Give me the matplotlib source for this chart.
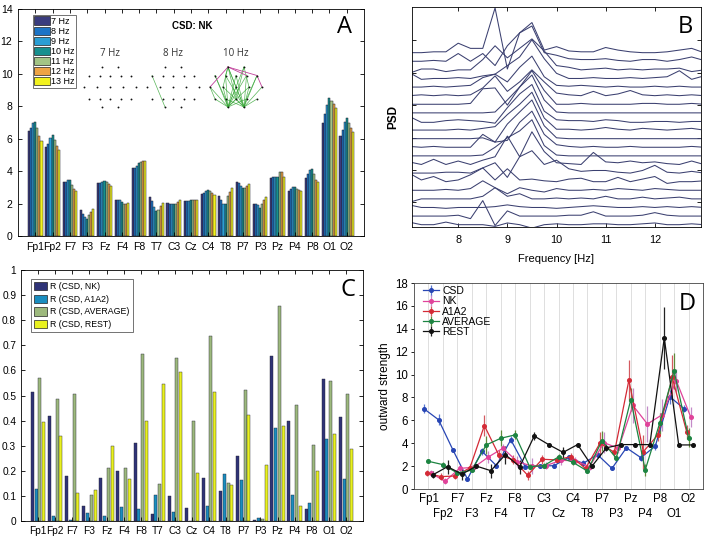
import numpy as np
import matplotlib
matplotlib.use('Agg')
import matplotlib.pyplot as plt
from matplotlib.patches import Patch

plt.rcParams['font.family'] = ['Liberation Sans', 'DejaVu Sans']

channels = ['Fp1', 'Fp2', 'F7', 'F3', 'Fz', 'F4', 'F8', 'T7', 'C3', 'Cz',
            'C4', 'T8', 'P7', 'P3', 'Pz', 'P4', 'P8', 'O1', 'O2']

# ---------------- Panel A data (CSD: NK strength per frequency) -------------
freq_labels = ['7 Hz', '8 Hz', '9 Hz', '10 Hz', '11 Hz', '12 Hz', '13 Hz']
a_7hz = [6.45, 5.50, 3.35, 1.60, 3.25, 2.25, 4.20, 2.40, 2.05, 2.15, 2.60, 2.45, 3.30, 2.00, 3.55, 2.80, 3.60, 6.95, 6.15]
a_8hz = [6.65, 5.65, 3.35, 1.35, 3.25, 2.25, 4.20, 2.15, 1.95, 2.15, 2.65, 2.25, 3.25, 2.00, 3.65, 2.90, 3.80, 7.50, 6.55]
a_9hz = [6.95, 6.05, 3.45, 1.15, 3.30, 2.20, 4.30, 1.80, 2.00, 2.15, 2.80, 1.95, 3.10, 1.90, 3.65, 3.00, 4.05, 8.05, 7.05]
a_10hz = [7.05, 6.20, 3.45, 1.05, 3.40, 2.10, 4.50, 1.55, 1.95, 2.20, 2.85, 1.95, 2.95, 1.75, 3.65, 3.00, 4.15, 8.50, 7.25]
a_11hz = [6.65, 5.95, 3.15, 1.30, 3.35, 1.95, 4.55, 1.60, 2.00, 2.20, 2.75, 2.45, 2.95, 2.00, 3.95, 2.90, 3.85, 8.30, 6.95]
a_12hz = [6.15, 5.55, 2.90, 1.50, 3.20, 1.95, 4.60, 1.85, 2.10, 2.20, 2.65, 2.70, 3.10, 2.25, 3.95, 2.85, 3.45, 8.15, 6.65]
a_13hz = [5.85, 5.30, 2.80, 1.65, 3.10, 2.05, 4.60, 2.05, 2.25, 2.20, 2.55, 2.95, 3.20, 2.40, 3.65, 2.80, 3.35, 7.90, 6.40]
a_series = [a_7hz, a_8hz, a_9hz, a_10hz, a_11hz, a_12hz, a_13hz]
a_colors = ['#3a3c7e', '#1c74c6', '#2a9ed4', '#17908f', '#a3c485', '#eea445', '#f2f21e']

# Inset head maps
map_titles = ['7 Hz', '8 Hz', '10 Hz']
electrode_x = [-8, 8, -21, -10.5, 0, 10.5, 21, -26, -13, 0, 13, 26, -21, -10.5, 0, 10.5, 21, -8, 8]
electrode_y = [20, 20, 11.5, 11.5, 11.5, 11.5, 11.5, 0, 0, 0, 0, 0, -12, -12, -12, -12, -12, -20, -20]
links_7hz_green = []
links_8hz_green = [('F7', 'O1')]
links_10hz_green = [('O1', 'F7'), ('O1', 'F3'), ('O1', 'Fz'), ('O1', 'F4'), ('O1', 'T7'), ('O1', 'C3'),
                    ('O1', 'Cz'), ('O1', 'C4'), ('O1', 'P7'), ('O1', 'P3'), ('O1', 'Fp2'), ('O1', 'P4'),
                    ('O2', 'F3'), ('O2', 'Fz'), ('O2', 'F4'), ('O2', 'F8'), ('O2', 'C3'), ('O2', 'Cz'),
                    ('O2', 'C4'), ('O2', 'T8'), ('O2', 'P4'), ('O2', 'P8'), ('O2', 'Fp1'), ('O2', 'P3'),
                    ('Fp1', 'C3'), ('Fp1', 'Cz'), ('Fp1', 'Pz'), ('Fp1', 'F3'), ('Fp2', 'C4'),
                    ('Fp2', 'Pz'), ('F7', 'P3'), ('F8', 'P4'), ('T7', 'P7'), ('Pz', 'O1'), ('Pz', 'O2')]
links_10hz_magenta = [('Fp1', 'F8'), ('Fp1', 'T7'), ('F8', 'T8'), ('Fp1', 'F4')]
map_links_green = [links_7hz_green, links_8hz_green, links_10hz_green]
map_links_magenta = [[], [], links_10hz_magenta]

# ---------------- Panel B data (PSD curves, 0.25 Hz steps) -------------------
psd_freqs = [7.0, 7.25, 7.5, 7.75, 8.0, 8.25, 8.5, 8.75, 9.0, 9.25, 9.5, 9.75, 10.0,
             10.25, 10.5, 10.75, 11.0, 11.25, 11.5, 11.75, 12.0, 12.25, 12.5, 12.75, 13.0]
psd_curves = [
    [0, 0, 0.1, 0.1, 1.1, 0.5, 0.5, 5.2, -1.9, 2.3, 3.5, 0.3, 0.7, 0.2, 0.1, 0.1, 0.6, 0.3, 0.1, 0.0, 0.0, 0.1, 0.3, 0.5, 0.0],
    [0, 0, 0.1, 0.0, 0.9, 0.0, 0.9, -0.5, 1.8, 3.3, 4.1, 1.0, 0.7, 0.3, 0.2, 0.2, 0.3, 0.1, 0.0, 0.2, 0.2, 0.0, 0.2, 0.5, 0.1],
    [-0.4, 0.1, 0.1, -0.2, 0.0, 0.0, 1.2, 2.8, 1.4, 2.5, 3.6, 2.2, 0.5, 0.3, 0.0, 0.1, 0.2, 0.0, 0.1, 0.0, 0.1, 0.1, 0.2, -0.2, 0.0],
    [0.7, -0.1, 0.0, 0.0, 0.1, 0.0, 0.3, 0.5, 1.5, 2.5, 4.5, 2.3, 0.6, 0.0, 0.0, 0.1, 0.0, 0.0, 0.1, 0.0, 0.1, 0.2, 0.9, -0.1, 0.3],
    [0, 0, 0.1, 0, 0.1, 0.2, 1.1, 1.5, 0.6, 2.3, 3.6, 1.2, 0.2, 0.1, 0.2, 0.1, 0.0, 0.1, 0.0, 0.0, 0.1, 0.0, 0.1, 0.0, 0.0],
    [0, 0.1, 0, 0.1, 0.0, 0.1, 0.9, 2.3, 0.5, 1.6, 3.0, 1.6, 0.3, 0.1, 0.0, 0.5, 0.0, 0.2, 0.6, 0.1, 0.0, 0.1, 0.0, 0.1, 0.0],
    [0, 0, 0, 0, 0, 0.1, 1.8, 1.9, -0.1, 2.0, 3.9, 1.6, 0.0, 0.0, 0.1, 0.0, 0.0, 0.0, 0.0, 0.1, 0.1, 0.0, 0.0, 0.1, 0.0],
    [0, 0, 0, 0, 0, 0, 0, 0.1, 1.5, 3.0, 4.4, 1.5, 0.1, 0, 0, 0, 0, 0, 0, 0, 0, 0, 0, 0, 0],
    [0.6, -0.1, -0.1, 0.1, 0.2, 0.1, 0.0, -0.2, 1.6, 3.2, 4.3, 1.2, 0.2, 0.1, 0.1, 0.0, 0.2, 0.1, -0.1, -0.1, 0.0, 0.0, -0.1, 0.0, 0.0],
    [0, 0, 0, 0, 0.1, 0.0, 0.2, 0.4, 1.8, 3.0, 4.4, 1.4, 0.1, 0.1, 0.0, 0.1, 0.3, 0.1, 0.0, 0.2, 0.1, 0.0, 0.1, 0.2, 0.0],
    [0, 0, 0, 0, 0, 0, 0.1, -0.4, 1.7, 3.1, 4.5, 1.5, 0.1, 0, 0, 0, 0, 0, 0, 0, 0, 0, 0, 0, 0],
    [0.1, 0, 0.1, 0.0, 0.0, 0.0, 1.5, 0.6, 0.8, 2.9, 4.2, 1.5, 0.3, 0.1, 0.0, 0.1, 0.0, 0.0, 0.1, 0.0, 0.0, 0.0, 0.0, 0.1, 0.0],
    [0, 0, 0, 0, 0, 0, 0.1, 1.0, 2.1, 2.9, 4.2, 1.2, 0.1, 0, 0, 0, 0, 0, 0, 0, 0, 0, 0, 0, 0],
    [0.3, 0, 0.6, 0, 0.4, 0, 0.5, 0.9, 3.3, 0.9, 3.8, 1.5, 0.2, 0.1, 0.0, 1.4, 0.3, 0.2, 0.4, 0.2, 0.3, 0.1, 0.0, 0.4, 0.0],
    [0, 0, 0, 0.1, 0.1, 0, 0.6, 1.2, -0.5, 1.9, 2.6, 1.0, 1.5, 0.5, 0.2, 0.3, 0.3, 0.1, 0.0, 0.3, 0.9, 0.1, 0.0, 0.2, 0.0],
    [1.0, 0.2, 0.6, 0, 0.2, 0.8, 1.6, 0.2, 1.5, 0.2, 0.3, 0.1, 0.0, 0.3, 0.4, 0.0, 0.0, 0.5, 0.0, 0.3, 0.6, -0.2, 0.0, 0.0, 0.1],
    [0, 0, 0, 0.1, 0.0, 0.2, 1.1, 0.3, -0.4, 0.3, 0.0, -0.2, 0.2, 0.0, 0.0, 0.1, 0.0, 0.2, 0.1, 0.0, 0.2, 0.1, 0.0, 0.0, 0.0],
    [-0.4, 0, 0, 0, 0, 0, 0.3, 1.3, 0.3, 0.6, 0.0, 0.0, 0.1, 0.0, 0.1, 0.0, 0.3, 0.0, 0.0, 0.2, 0.0, 0.1, 0.2, 0.0, 0.0],
    [0.3, 0.0, 0.0, -0.1, 0.0, 0.0, 0.0, 0.1, 0.3, 0.1, 0.0, 0.0, -0.1, 0.0, 0.1, 0.2, 0.1, 0.0, 0.0, 0.1, 0.0, 0.1, 0.0, 0.1, 0.0],
    [0.0, 0.0, 0.0, 0.0, 0.1, -0.3, 1.8, -1.1, 0.6, 0.0, 0.0, 0.0, 0.0, 0.1, 0.1, 0.5, 0.0, 0.0, 0.0, 0.1, 0.4, 0.1, 0.0, 0.0, 0.0],
    [0.3, 0.0, 0.0, 0.3, 0.0, 0.0, 0.0, -0.2, 0.2, 0.0, -0.4, 0.0, 0.1, 0.0, 0.0, 0.1, 0.1, 0.0, 0.0, 0.1, 0.2, 0.0, 0.0, 0.1, 0.0],
]

# ---------------- Panel C data (correlations) --------------------------------
c_labels = ['R (CSD, NK)', 'R (CSD, A1A2)', 'R (CSD, AVERAGE)', 'R (CSD, REST)']
r_nk = [0.515, 0.418, 0.178, 0.058, 0.172, 0.200, 0.312, 0.028, 0.100, 0.050, 0.173, 0.120, 0.258, 0.003, 0.658, 0.398, 0.048, 0.567, 0.415]
r_a1a2 = [0.128, 0.020, 0.002, 0.032, 0.018, 0.056, 0.046, 0.103, 0.035, 0.001, 0.060, 0.188, 0.162, 0.013, 0.372, 0.103, 0.072, 0.328, 0.168]
r_average = [0.570, 0.488, 0.505, 0.105, 0.212, 0.210, 0.665, 0.148, 0.648, 0.400, 0.737, 0.153, 0.520, 0.007, 0.855, 0.462, 0.303, 0.557, 0.505]
r_rest = [0.395, 0.338, 0.112, 0.125, 0.298, 0.168, 0.398, 0.545, 0.595, 0.190, 0.515, 0.143, 0.422, 0.222, 0.377, 0.058, 0.200, 0.345, 0.287]
c_series = [r_nk, r_a1a2, r_average, r_rest]
c_colors = ['#2f3377', '#1a8dbf', '#9db97d', '#e9f11f']

# ---------------- Panel D data (outward strength, mean and error) ------------
d_labels = ['CSD', 'NK', 'A1A2', 'AVERAGE', 'REST']
d_csd = [7.0, 6.05, 3.4, 0.87, 3.3, 2.04, 4.3, 1.95, 2.0, 2.04, 2.77, 2.24, 3.0, 1.8, 3.6, 2.74, 3.75, 8.07, 7.0]
d_csd_err = [0.4, 0.5, 0.2, 0.2, 0.3, 0.2, 0.3, 0.2, 0.2, 0.2, 0.2, 0.3, 0.2, 0.15, 0.2, 0.3, 0.3, 0.6, 0.3]
d_nk = [1.4, 0.67, 1.8, 1.9, 2.8, 3.56, 2.4, 2.0, 2.05, 2.5, 2.48, 1.95, 4.05, 3.55, 7.3, 5.68, 6.47, 9.47, 6.3]
d_nk_err = [0.3, 0.25, 0.4, 0.3, 0.5, 0.4, 0.5, 0.7, 0.3, 0.4, 0.3, 0.3, 0.9, 0.4, 1.5, 1.6, 1.4, 1.0, 0.9]
d_a1a2 = [1.4, 1.08, 1.14, 1.85, 5.54, 2.97, 2.55, 1.2, 2.6, 2.54, 2.83, 1.8, 4.0, 3.2, 9.5, 3.26, 4.72, 9.75, 5.0]
d_a1a2_err = [0.3, 0.3, 0.3, 0.3, 0.9, 0.4, 0.4, 0.4, 0.4, 0.3, 0.3, 0.2, 1.0, 0.4, 1.8, 1.5, 0.5, 2.0, 0.6]
d_average = [2.42, 2.13, 1.4, 1.65, 3.85, 4.43, 4.73, 1.95, 2.05, 2.8, 2.33, 1.57, 4.2, 2.7, 7.8, 1.66, 5.74, 10.3, 4.5]
d_average_err = [0.1, 0.2, 0.3, 0.2, 0.8, 0.7, 0.4, 0.2, 0.2, 0.3, 0.2, 0.15, 0.9, 0.3, 1.0, 0.5, 0.9, 1.6, 0.8]
d_rest = [1.25, 1.95, 1.3, 2.0, 1.6, 3.0, 1.95, 4.63, 3.88, 3.2, 3.88, 2.0, 3.6, 3.88, 3.88, 3.88, 13.2, 3.85, 3.85]
d_rest_err = [0.3, 0.6, 0.5, 0.1, 0.6, 0.8, 0.6, 0.35, 0.0, 0.5, 0.0, 0.1, 0.3, 0.0, 0.0, 0.0, 2.7, 0.0, 0.0]
d_means = [d_csd, d_nk, d_a1a2, d_average, d_rest]
d_errs = [d_csd_err, d_nk_err, d_a1a2_err, d_average_err, d_rest_err]
d_colors = ['#2846b4', '#e0439a', '#d42a36', '#1c8441', '#111111']
d_ecolors = ['#5a78d0', '#c48ac8', '#d45a60', '#5f8a3a', '#222222']
d_offsets = [-0.3, 0.15, -0.13, 0.0, 0.32]

# ============================================================================
W, H = 708, 538
fig = plt.figure(figsize=(W / 100, H / 100), dpi=100)


def rect(x0, y0, x1, y1):
    return [x0 / W, 1 - y1 / H, (x1 - x0) / W, (y1 - y0) / H]


x = np.arange(1, len(channels) + 1)

# ---------------- Panel A ----------------
axA = fig.add_axes(rect(18, 9, 364, 236))
nA = len(a_series)
wA = 0.84 / nA
for i, vals in enumerate(a_series):
    axA.bar(x + (i - (nA - 1) / 2) * wA, vals, width=wA, color=a_colors[i],
            edgecolor='#1e1e2a', linewidth=0.35)
axA.set_xlim(0, 20)
axA.set_ylim(0, 14)
axA.set_xticks(x)
axA.set_xticklabels(channels, fontsize=7.2)
axA.set_yticks(np.arange(0, 15, 2))
axA.tick_params(direction='in', top=True, right=True, labelsize=7.5, length=3, width=0.6, pad=4)
for s in axA.spines.values():
    s.set_linewidth(0.6)
handlesA = [Patch(facecolor=c, edgecolor='#222222', linewidth=0.5) for c in a_colors]
legA = axA.legend(handlesA, freq_labels, loc='upper left', bbox_to_anchor=(0.042, 0.975),
                  fontsize=6.5, frameon=True, fancybox=False, edgecolor='#333333',
                  handlelength=1.7, handleheight=1.0, labelspacing=0.1, borderpad=0.2,
                  handletextpad=0.1, borderaxespad=0)
legA.get_frame().set_linewidth(0.6)
axA.text(0.505, 0.925, 'CSD: NK', transform=axA.transAxes, fontsize=7, fontweight='bold',
         ha='center', va='center')
axA.text(0.945, 0.92, 'A', transform=axA.transAxes, fontsize=17, ha='center', va='center',
         family=['Open Sans', 'DejaVu Sans'])

name_idx = {c: i for i, c in enumerate(channels)}
map_centers = [110, 173, 236]
for m, cx in enumerate(map_centers):
    axm = fig.add_axes(rect(cx - 32, 62, cx + 32, 112))
    axm.set_xlim(-32, 32)
    axm.set_ylim(-25, 25)
    axm.axis('off')
    for a, b in map_links_green[m]:
        ia, ib = name_idx[a], name_idx[b]
        axm.plot([electrode_x[ia], electrode_x[ib]], [electrode_y[ia], electrode_y[ib]],
                 color='#3aa83a', lw=0.5, alpha=0.85)
    for a, b in map_links_magenta[m]:
        ia, ib = name_idx[a], name_idx[b]
        axm.plot([electrode_x[ia], electrode_x[ib]], [electrode_y[ia], electrode_y[ib]],
                 color='#c0409a', lw=0.6)
    axm.scatter(electrode_x, electrode_y, s=1.8, color='#111111', zorder=3, linewidths=0)
    fig.text(cx / W, 1 - 53 / H, map_titles[m], fontsize=7, ha='center', va='center',
             color='#333333', family=['Open Sans', 'DejaVu Sans'])

# ---------------- Panel B ----------------
axB = fig.add_axes(rect(412, 7, 701, 227))
nB = len(psd_curves)
for j, curve in enumerate(psd_curves):
    base = (nB - 1 - j) + 0.27
    axB.plot(psd_freqs, np.array(curve) + base, color='#3b4070', lw=0.75)
axB.set_xlim(7.06, 12.94)
axB.set_ylim(0, 25.58)
axB.set_xticks([8, 9, 10, 11, 12])
axB.set_yticks([2.9, 6.65, 10.4, 14.2, 17.95, 21.7])
axB.set_yticklabels([])
axB.tick_params(direction='in', top=True, right=True, labelsize=7.8, length=3, width=0.6, pad=6)
for s in axB.spines.values():
    s.set_linewidth(0.6)
axB.set_xlabel('Frequency [Hz]', fontsize=8, labelpad=6)
axB.set_ylabel('PSD', fontsize=8.5, fontweight='bold', labelpad=3)
axB.text(0.945, 0.91, 'B', transform=axB.transAxes, fontsize=17, ha='center', va='center',
         family=['Open Sans', 'DejaVu Sans'])

# ---------------- Panel C ----------------
axC = fig.add_axes(rect(21, 270, 363, 521))
nC = len(c_series)
wC = 0.88 / nC
for i, vals in enumerate(c_series):
    axC.bar(x + (i - (nC - 1) / 2) * wC, vals, width=wC * 0.8, color=c_colors[i],
            edgecolor='#222233', linewidth=0.3)
axC.set_xlim(0, 20)
axC.set_ylim(0, 1)
axC.set_xticks(x)
axC.set_xticklabels(channels, fontsize=7.0)
axC.set_yticks(np.round(np.arange(0, 1.01, 0.1), 1))
axC.set_yticklabels(['0', '0.1', '0.2', '0.3', '0.4', '0.5', '0.6', '0.7', '0.8', '0.9', '1'])
axC.tick_params(direction='in', top=True, right=True, labelsize=7.3, length=3, width=0.6)
for s in axC.spines.values():
    s.set_linewidth(0.6)
handlesC = [Patch(facecolor=c, edgecolor='#222222', linewidth=0.5) for c in c_colors]
legC = axC.legend(handlesC, c_labels, loc='upper left', bbox_to_anchor=(0.03, 0.965),
                  fontsize=6.3, frameon=True, fancybox=False, edgecolor='#333333',
                  handlelength=1.4, handleheight=1.1, labelspacing=0.4, borderpad=0.35,
                  handletextpad=0.4, borderaxespad=0)
legC.get_frame().set_linewidth(0.6)
axC.text(0.955, 0.92, 'C', transform=axC.transAxes, fontsize=17, ha='center', va='center',
         family=['Open Sans', 'DejaVu Sans'])

# ---------------- Panel D ----------------
axD = fig.add_axes(rect(414, 283, 703, 489))
xd = np.arange(len(channels))
for i in range(len(d_means)):
    axD.errorbar(xd + d_offsets[i], d_means[i], yerr=d_errs[i], color=d_colors[i],
                 ecolor=d_ecolors[i], marker='o', ms=2.6, lw=0.9, elinewidth=0.9,
                 capsize=0, label=d_labels[i])
axD.set_xlim(-1, 19.0)
axD.set_ylim(0, 18)
axD.set_yticks(np.arange(0, 19, 2))
even = xd[::2]
odd = xd[1::2]
axD.set_xticks(even)
axD.set_xticklabels([channels[k] for k in even], fontsize=8.3)
axD.set_xticks(odd, minor=True)
axD.set_xticklabels([channels[k] for k in odd], minor=True, fontsize=8.3)
axD.grid(which='both', axis='x', color='#d9d9d9', lw=0.6)
axD.set_axisbelow(True)
axD.tick_params(axis='x', which='major', length=0, pad=3)
axD.tick_params(axis='x', which='minor', length=0, pad=14)
axD.tick_params(axis='y', labelsize=8.3, length=2.5, width=0.6, pad=2)
for s in axD.spines.values():
    s.set_linewidth(0.6)
    s.set_color('#444444')
axD.set_ylabel('outward strength', fontsize=8.5, labelpad=3)
axD.legend(loc='upper left', bbox_to_anchor=(0.03, 0.985), fontsize=7.5, frameon=False,
           labelspacing=0.02, handlelength=1.6, handletextpad=0.3, borderaxespad=0, borderpad=0)
axD.text(0.944, 0.90, 'D', transform=axD.transAxes, fontsize=17, ha='center', va='center',
         family=['Open Sans', 'DejaVu Sans'])

fig.savefig('out.png', dpi=100, facecolor='white')
